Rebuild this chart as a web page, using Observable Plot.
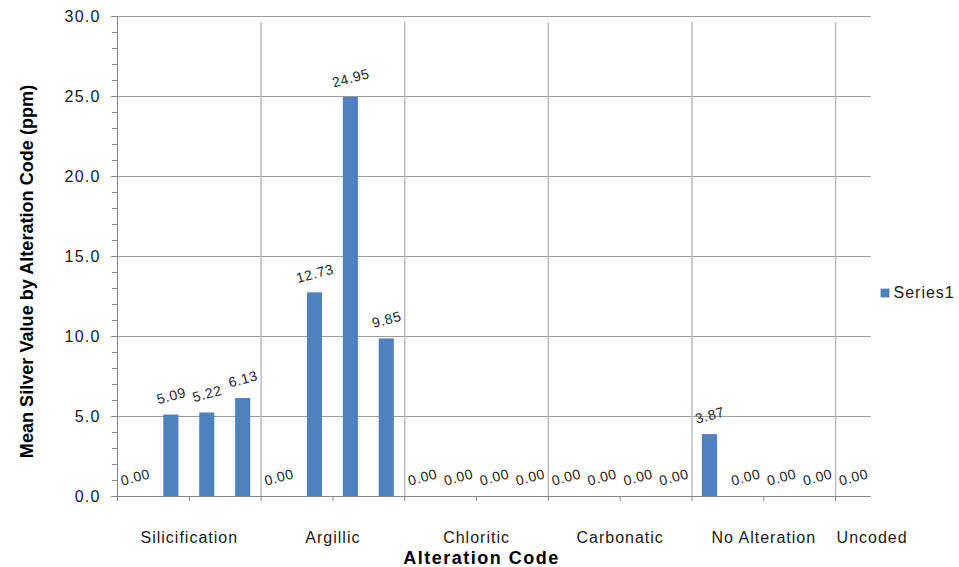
<!DOCTYPE html>
<html>
<head>
<meta charset="utf-8">
<script src="https://cdn.jsdelivr.net/npm/d3@7"></script>
<script src="https://cdn.jsdelivr.net/npm/@observablehq/plot@0.6"></script>
<style>
  html, body { margin: 0; padding: 0; background: #fff; overflow: hidden; }
  #chart svg { display: block; }
  g[aria-label="y-axis tick label"] text { letter-spacing: 1.2px; }
  /* group labels + legend text (16px) */
  g[aria-label="text"][font-size="16"] text { letter-spacing: 1px; }
  /* value labels (14px) */
  g[aria-label="text"][font-size="14"] text { letter-spacing: 0.6px; }
  /* x title (18px) */
  g[aria-label="text"][font-size="18"] text { letter-spacing: 1.5px; }
</style>
</head>
<body>
<div id="chart"></div>
<script>
// ---- data ----
const categories = ["Silicification", "Argillic", "Chloritic", "Carbonatic", "No Alteration", "Uncoded"];
const groupSizes = [4, 4, 4, 4, 4, 1];
const values = [
  0.00, 5.09, 5.22, 6.13,
  0.00, 12.73, 24.95, 9.85,
  0.00, 0.00, 0.00, 0.00,
  0.00, 0.00, 0.00, 0.00,
  3.87, 0.00, 0.00, 0.00,
  0.00
];
const yTicks = [0, 5, 10, 15, 20, 25, 30];
const yMinorTicks = d3.range(0, 31, 1);
const seriesName = "Series1";
const yTitle = "Mean Silver Value by Alteration Code (ppm)";
const xTitle = "Alteration Code";

// ---- derived tables ----
const nSlots = values.length;
const slots = values.map((v, i) => ({i, v}));
let acc = 0;
const groups = categories.map((name, k) => {
  const start = acc;
  acc += groupSizes[k];
  return {name, start, end: acc, size: groupSizes[k]};
});
const boundaries = groups.slice(1).map(g => g.start);
const xTicks = d3.range(0, nSlots, 2);

const font = "'Liberation Sans', Arial, sans-serif";
const axisGray = "#868686";
const textColor = "#1a1a1a";

const chart = Plot.plot({
  width: 959,
  height: 567,
  marginLeft: 117,
  marginRight: 88,
  marginTop: 16,
  marginBottom: 71,
  style: {fontFamily: font, background: "#fff", overflow: "visible"},
  x: {type: "linear", domain: [0, nSlots], label: null},
  y: {domain: [0, 30], label: null},
  marks: [
    // horizontal gridlines
    Plot.ruleY(yTicks.filter(d => d > 0), {x1: 0, x2: nSlots, stroke: "#9c9c9c", strokeWidth: 1}),
    // vertical group gridlines (extending a little below axis)
    Plot.ruleX(boundaries, {y1: 0, y2: 30, stroke: "#bdbdbd", strokeWidth: 1.5, insetBottom: -6}),
    // x tick marks
    Plot.axisX(xTicks, {tickSize: 5, tickFormat: () => "", stroke: axisGray}),
    // y minor ticks
    Plot.axisY(yMinorTicks, {tickSize: 5, tickFormat: () => "", stroke: axisGray}),
    // y major ticks + labels
    Plot.axisY(yTicks, {
      tickSize: 6, tickPadding: 11, tickFormat: d3.format(".1f"),
      stroke: axisGray, fill: textColor, fontSize: 16, fontFamily: font
    }),
    // axis lines
    Plot.ruleX([0], {y1: 0, y2: 30, stroke: axisGray, strokeWidth: 1}),
    Plot.ruleY([0], {x1: 0, x2: nSlots, stroke: axisGray, strokeWidth: 1}),
    // bars
    Plot.rectY(slots, {
      x1: d => d.i, x2: d => d.i + 1, y1: 0, y2: d => d.v,
      fill: "#4F81BD", insetLeft: 10.4, insetRight: 10.4
    }),
    // value labels
    Plot.text(slots, {
      x: d => d.i + 0.5, y: d => d.v, text: d => d3.format(".2f")(d.v),
      dy: -19, rotate: -15, fontSize: 14, fill: "#262626", fontFamily: font
    }),
    // group labels (multi-slot: centered)
    Plot.text(groups.filter(g => g.size > 1), {
      x: g => (g.start + g.end) / 2, text: "name", frameAnchor: "bottom", lineAnchor: "middle",
      dy: 41, fontSize: 16, fill: textColor, fontFamily: font
    }),
    // group labels (single slot: start aligned)
    Plot.text(groups.filter(g => g.size === 1), {
      x: "start", text: "name", frameAnchor: "bottom", lineAnchor: "middle", textAnchor: "start",
      dx: 1, dy: 41, fontSize: 16, fill: textColor, fontFamily: font
    }),
    // x title
    Plot.text([xTitle], {
      frameAnchor: "bottom", lineAnchor: "middle", dx: -13, dy: 62, fontSize: 18, fontWeight: "bold",
      fill: "#000", fontFamily: font
    }),
    // y title
    Plot.text([yTitle], {
      frameAnchor: "left", textAnchor: "middle", lineAnchor: "middle", rotate: -90, dx: -90, dy: 15,
      fontSize: 18.1, fontWeight: "bold", fill: "#000", fontFamily: font
    }),
    // legend
    Plot.dot([seriesName], {
      frameAnchor: "right", dx: 13.5, dy: 36.5, symbol: "square", r: 5,
      fill: "#4F81BD", stroke: "none"
    }),
    Plot.text([seriesName], {
      frameAnchor: "right", textAnchor: "start", lineAnchor: "middle", dx: 22, dy: 36, fontSize: 16,
      fill: textColor, fontFamily: font
    })
  ]
});
document.getElementById("chart").appendChild(chart);
</script>
</body>
</html>
